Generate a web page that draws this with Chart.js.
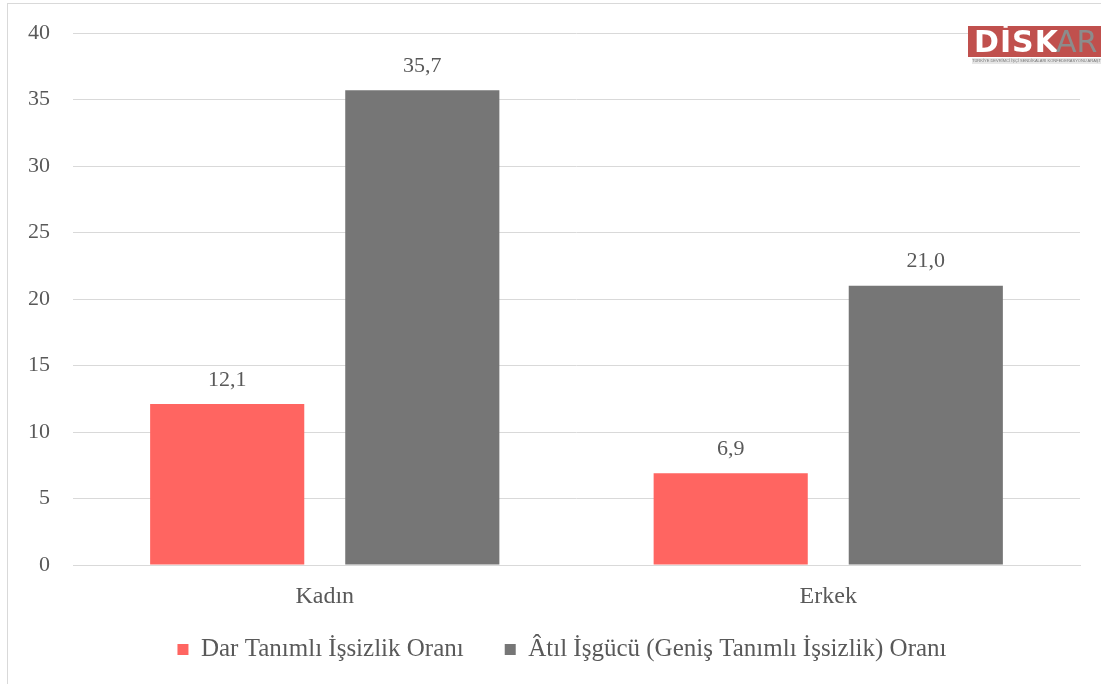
<!DOCTYPE html>
<html>
<head>
<meta charset="utf-8">
<script src="https://cdn.jsdelivr.net/npm/chart.js@4.4.0/dist/chart.umd.min.js"></script>
<style>
  html, body { margin: 0; padding: 0; background: #fff; overflow: hidden; }
  #frame { position: absolute; left: 7px; top: 3px; width: 1200px; height: 800px; border: 1px solid #d9d9d9; }
  #wrap { position: absolute; left: 0; top: 0; width: 1101px; height: 684px; }
  #logo { position: absolute; left: 968px; top: 26px; width: 133px; height: 40px; background: #fff; }
  #logo .bar { position: absolute; left: 0; top: 0; width: 133px; height: 31px; background: #c0504d; }
  #logo .disk { position: absolute; left: 6px; top: 0px; font: bold 30px "DejaVu Sans", sans-serif; color: #fff; letter-spacing: 1px; line-height: 31px; }
  #logo .ar { position: absolute; left: 88px; top: 0px; font: 30px "DejaVu Sans", sans-serif; color: #8c8c8c; line-height: 31px; }
  #logo .sub { position: absolute; left: 4px; top: 32px; width: 129px; height: 6px; background: #e6e6e6; font: 4px sans-serif; color: #777; overflow: hidden; white-space: nowrap; line-height: 6px; }
</style>
</head>
<body>
<div id="frame"></div>
<div id="wrap"><canvas id="chart" width="1101" height="684"></canvas></div>
<div id="logo">
  <div class="bar"></div>
  <div class="disk">DİSK</div>
  <div class="ar">AR</div>
  <div class="sub">TÜRKİYE DEVRİMCİ İŞÇİ SENDİKALARI KONFEDERASYONU ARAŞTIRMA MERKEZİ</div>
</div>
<script>
const categories = ["Kadın", "Erkek"];
const darValues = [12.1, 6.9];
const atilValues = [35.7, 21.0];
const seriesNames = ["Dar Tanımlı İşsizlik Oranı", "Âtıl İşgücü (Geniş Tanımlı İşsizlik) Oranı"];

const fontFamily = '"Liberation Serif", "DejaVu Serif", serif';
const textColor = "#595959";

// Draw value labels above each bar
const barLabels = {
  id: "barLabels",
  afterDatasetsDraw(chart) {
    const ctx = chart.ctx;
    ctx.save();
    ctx.font = "22px " + fontFamily;
    ctx.fillStyle = textColor;
    ctx.textAlign = "center";
    ctx.textBaseline = "bottom";
    chart.data.datasets.forEach((ds, i) => {
      chart.getDatasetMeta(i).data.forEach((bar, j) => {
        ctx.fillText(ds.data[j].toFixed(1).replace(".", ","), bar.x, bar.y - 13);
      });
    });
    ctx.restore();
  },
};

// Nudge the legend a bit to the right, like the original
const legendShift = {
  id: "legendShift",
  afterLayout(chart) {
    chart.legend.left += 22;
    chart.legend.right += 22;
  },
};

new Chart(document.getElementById("chart"), {
  type: "bar",
  plugins: [barLabels, legendShift],
  data: {
    labels: categories,
    datasets: [
      { label: seriesNames[0], data: darValues, backgroundColor: "#ff6561" },
      { label: seriesNames[1], data: atilValues, backgroundColor: "#767676" },
    ],
  },
  options: {
    responsive: false,
    animation: false,
    devicePixelRatio: 1,
    categoryPercentage: 0.775,
    barPercentage: 0.79,
    layout: { padding: { left: 0, right: 21, top: 33, bottom: 12 } },
    plugins: {
      tooltip: { enabled: false },
      legend: {
        position: "bottom",
        labels: {
          color: textColor,
          font: { size: 25, family: fontFamily },
          boxWidth: 11,
          boxHeight: 11,
          padding: 16,
          // wider gap between the two legend items
          generateLabels(chart) {
            const items = Chart.defaults.plugins.legend.labels.generateLabels(chart);
            items[0].text += "\u2002\u2002";
            return items;
          },
        },
      },
    },
    scales: {
      x: {
        afterFit(scale) { scale.height = 56; },
        grid: { display: false, drawTicks: false },
        border: { color: "#d9d9d9" },
        ticks: { color: textColor, font: { size: 24, family: fontFamily }, padding: 17 },
      },
      y: {
        min: 0,
        max: 40,
        afterFit(scale) { scale.width = 73; scale.paddingTop = 0; scale.paddingBottom = 0; },
        grid: { color: "#d9d9d9", drawTicks: false },
        border: { display: false },
        ticks: { stepSize: 5, color: textColor, font: { size: 22, family: fontFamily }, padding: 23 },
      },
    },
  },
});
</script>
</body>
</html>
